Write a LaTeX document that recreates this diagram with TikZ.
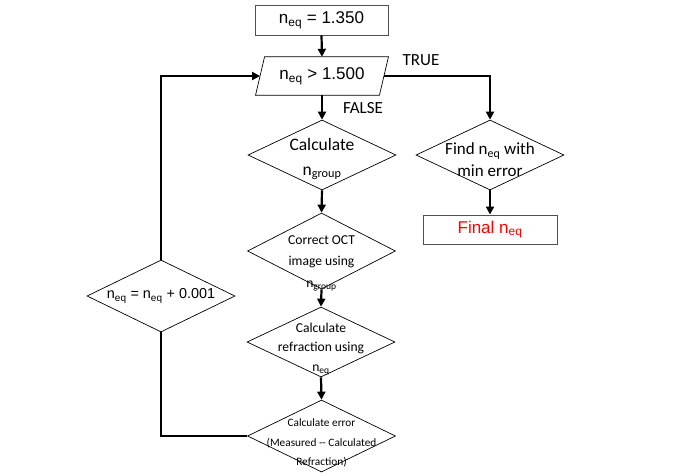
\documentclass[tikz,border=0pt]{standalone}
\usepackage{fontspec}
\setmainfont{Liberation Sans}
\newfontfamily\calfont{Carlito}
\usetikzlibrary{shapes.geometric,arrows.meta}
\definecolor{boxgray}{HTML}{505050}
\begin{document}
\begin{tikzpicture}[x=1pt,y=-1pt,
  box/.style={draw=boxgray,line width=0.9pt,rectangle,inner sep=0},
  dia/.style={draw=black,line width=0.7pt,diamond,inner sep=0,minimum width=148pt,minimum height=72pt},
  parbody/.style={rectangle,inner sep=0,minimum width=123.5pt,minimum height=38pt},
  parline/.style={draw=black,line width=0.7pt},
  arr/.style={line width=2.2pt,-{Triangle[length=8pt,width=8pt]}},
  link/.style={line width=2.2pt},
  txt/.style={align=center,inner sep=0},
]
\useasboundingbox (0,0) rectangle (679,475);
% shapes
\node[box,minimum width=133pt,minimum height=30pt] (init) at (321.5,20) {};
\node[parbody] (test) at (322,76) {};
\draw[parline] ([xshift=-4.5pt]test.south west) -- ([xshift=4.5pt]test.north west)
  -- ([xshift=4.5pt]test.north east) -- ([xshift=-4.5pt]test.south east) -- cycle;
\node[dia,minimum height=70pt] (calc) at (322,155) {};
\node[dia,minimum height=70pt] (find) at (490,155) {};
\node[box,minimum width=134pt,minimum height=29pt] (final) at (490,229.5) {};
\node[dia,minimum height=76pt] (oct) at (321.5,251) {};
\node[dia,minimum height=70pt] (refr) at (321,342) {};
\node[dia] (err) at (321.5,436) {};
\node[dia] (upd) at (161,296) {};
% texts
\node[txt,font=\fontsize{17}{20}\selectfont] (initT) at (init) {n\textsubscript{eq} = 1.350};
\node[txt,font=\fontsize{17}{20}\selectfont] (testT) at (test) {n\textsubscript{eq} > 1.500};
\node[txt,font=\calfont\fontsize{17.5}{25}\selectfont] (calcT) at (322,159) {Calculate\\n\textsubscript{group}};
\node[txt,font=\calfont\fontsize{17}{22}\selectfont] (findT) at (490,160) {Find n\textsubscript{eq} with\\min error};
\node[txt,font=\fontsize{17}{20}\selectfont,text=red] (finalT) at (final) {Final n\textsubscript{eq}};
\node[txt,font=\calfont\fontsize{13.6}{21.5}\selectfont] (octT) at (321.5,263) {Correct OCT\\image using\\n\textsubscript{group}};
\node[txt,font=\calfont\fontsize{13.6}{19.5}\selectfont] (refrT) at (321,349) {Calculate\\refraction using\\n\textsubscript{eq}};
\node[txt,font=\calfont\fontsize{11.3}{19.5}\selectfont] (errT) at (321.5,443) {Calculate error\\(Measured -- Calculated\\Refraction)};
\node[txt,font=\fontsize{14.4}{18}\selectfont] (updT) at (161,296) {n\textsubscript{eq} = n\textsubscript{eq} + 0.001};
\node[txt,font=\calfont\fontsize{17}{20}\selectfont] (trueL) at (421,60) {TRUE};
\node[txt,font=\calfont\fontsize{17}{20}\selectfont] (falseL) at (363,108) {FALSE};
% connectors
\draw[arr] (init.south) -- (test.north);
\draw[arr] (test.south) -- (calc.north);
\draw[arr] (test.east) -| (find.north);
\draw[arr] (calc.south) -- (oct.north);
\draw[arr] (oct.south) -- (refr.north);
\draw[arr] (refr.south) -- (err.north);
\draw[arr] (find.south) -- (final.north);
\draw[link] (err.west) -| (upd.south);
\draw[arr] (upd.north) |- (test.west);
\end{tikzpicture}
\end{document}
